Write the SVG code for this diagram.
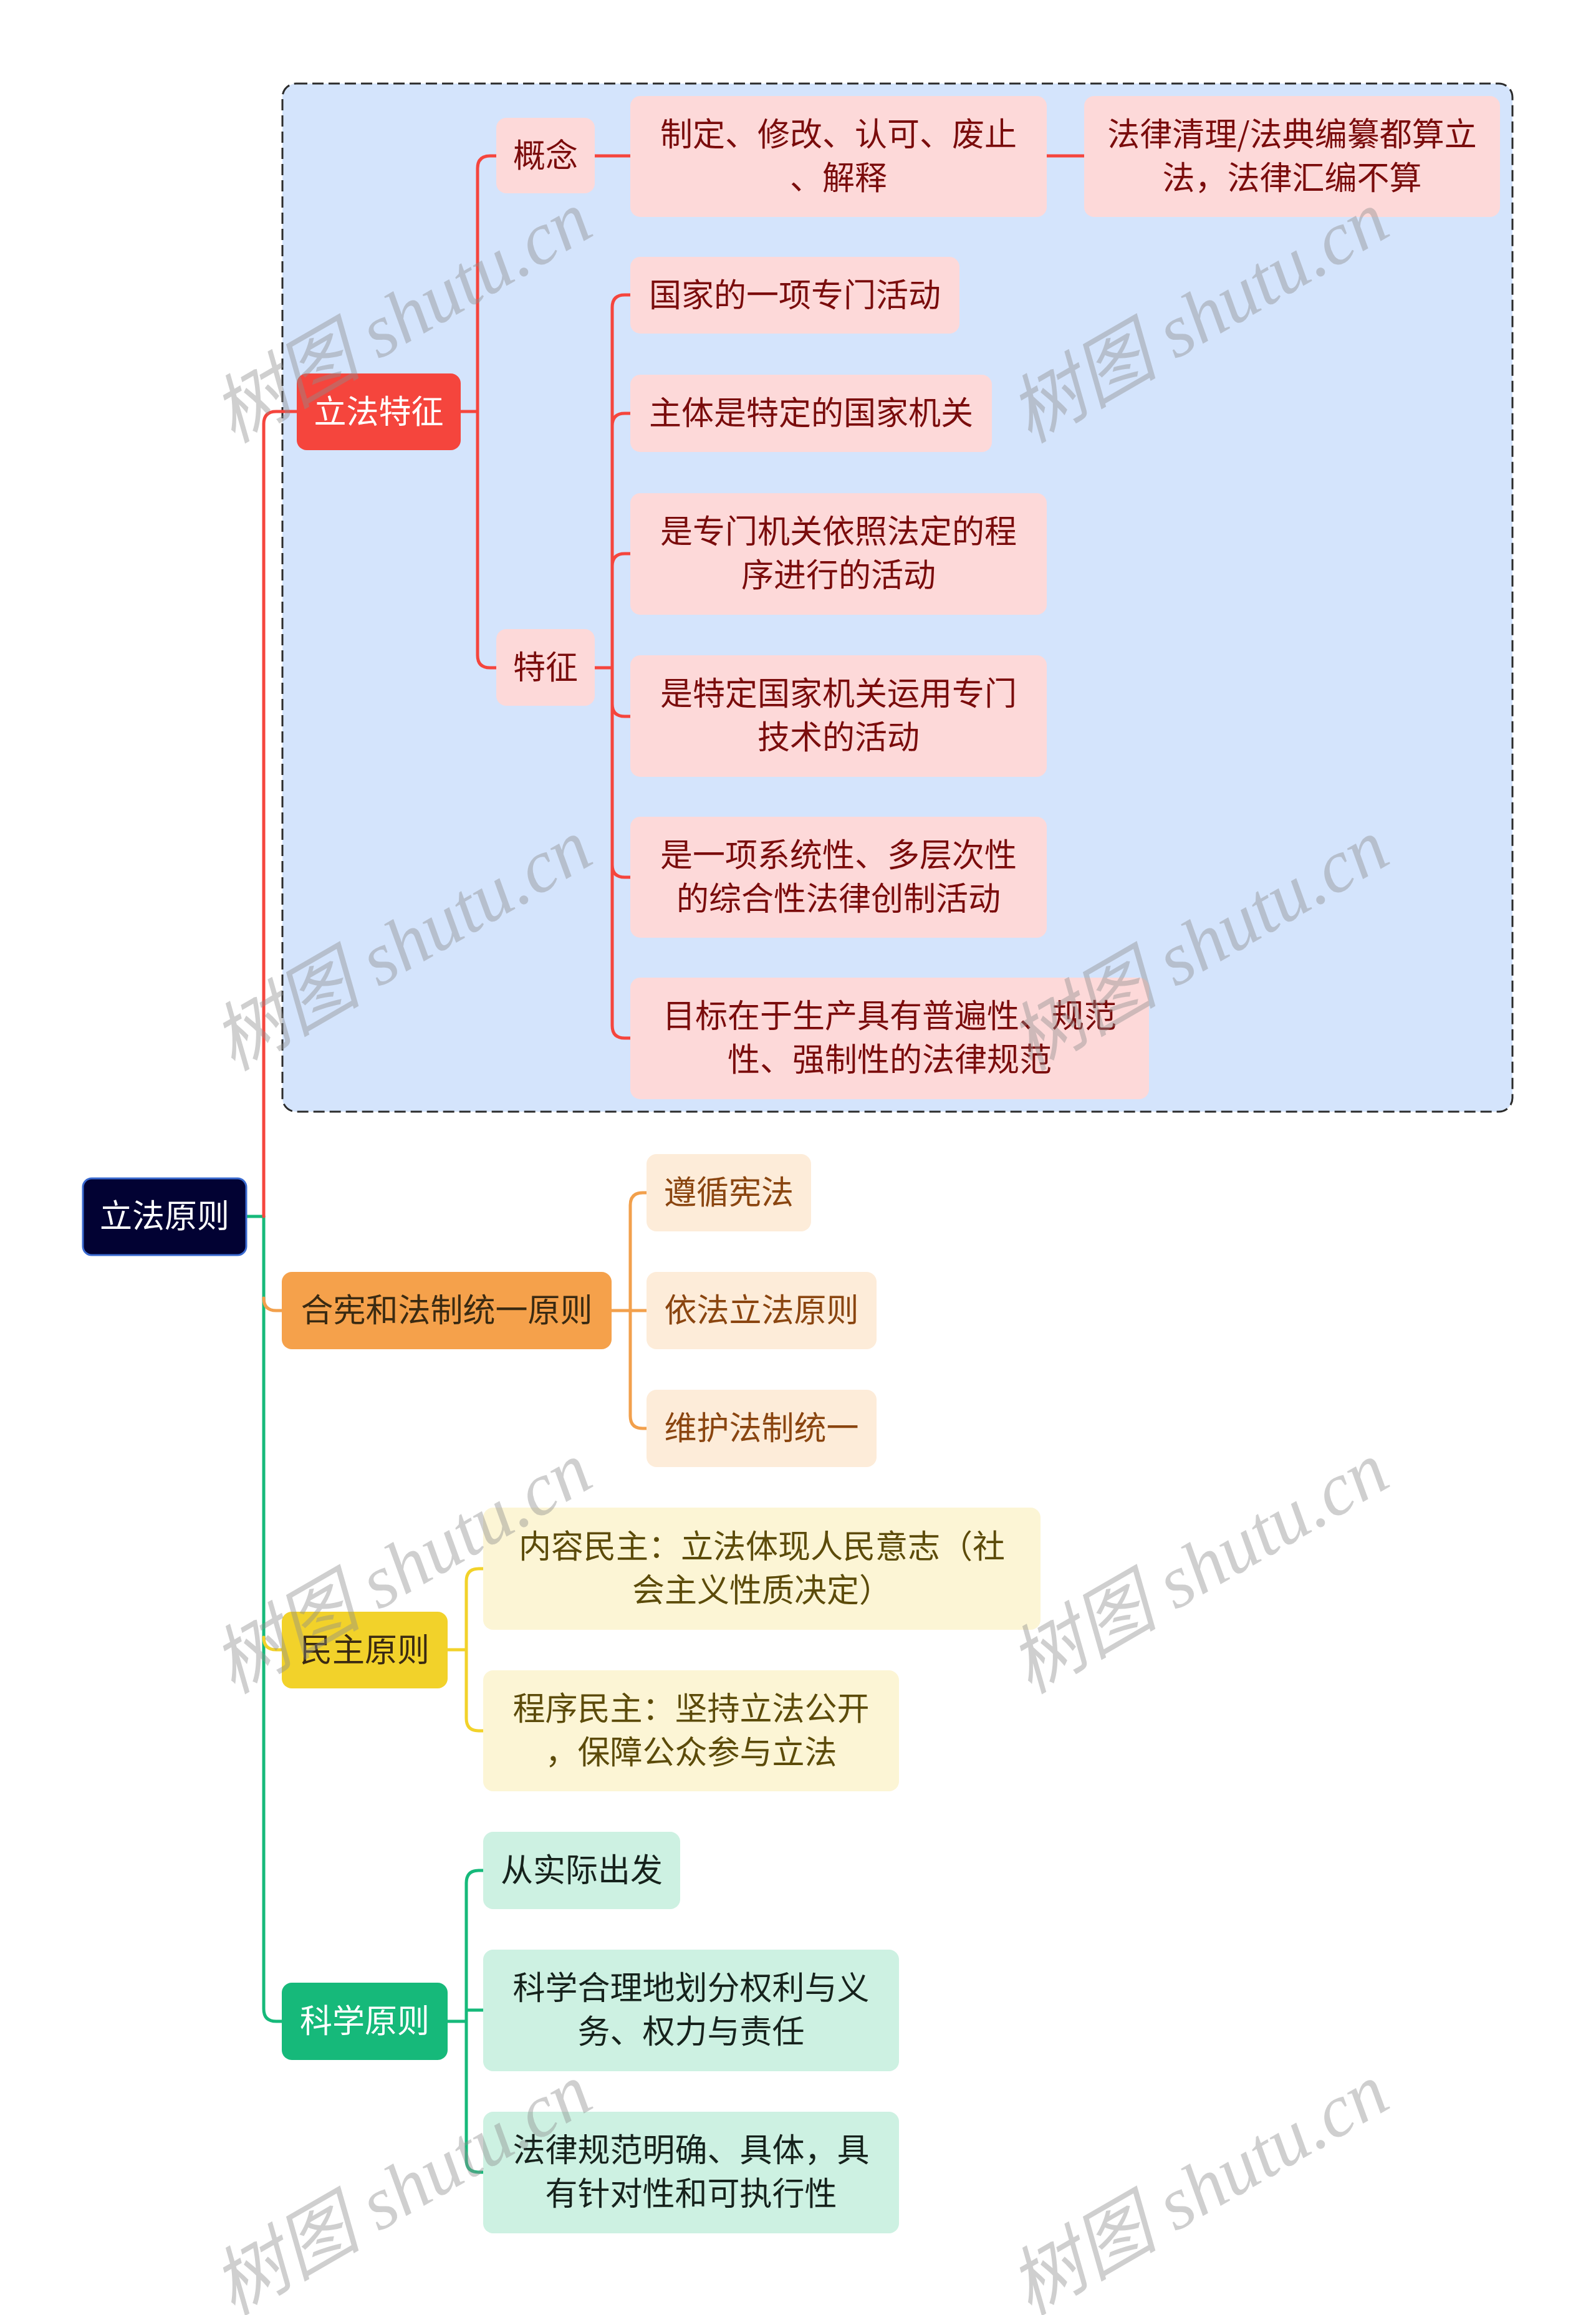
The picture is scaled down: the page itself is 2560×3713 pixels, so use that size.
<svg xmlns="http://www.w3.org/2000/svg" width="2560" height="3713" viewBox="0 0 2560 3713">
<style>
text{font-family:"Noto Sans CJK SC","Noto Sans",sans-serif;font-size:52px;text-anchor:middle}
.ln{fill:none;stroke-width:5;stroke-linecap:round;stroke-linejoin:round}
.r{stroke:#f5453d}.o{stroke:#f2a04c}.y{stroke:#f2d22a}.g{stroke:#16b97a}
.n{stroke:none}
.t-w{fill:#ffffff}
.t-r{fill:#7a0c0c}.t-o{fill:#8a4510}.t-y{fill:#5c4b0a}.t-g{fill:#16221c}.t-d{fill:#3a2a12}
.f-r{fill:#fdd9d9}.f-o{fill:#fdecd9}.f-y{fill:#fcf5d5}.f-g{fill:#cdf1e2}
.wm{font-family:"Liberation Serif","Noto Sans CJK SC",serif;font-size:120px;font-style:italic;fill:#8c8c8c;fill-opacity:0.42}
</style>
<rect width="2560" height="3713" fill="#ffffff"/>
<rect id="boundary" x="453" y="134" width="1973" height="1649" rx="22" fill="#d4e4fc" stroke="#2b2b2b" stroke-width="3" stroke-dasharray="18 8"/>
<g id="connectors">
<path class="ln g" d="M395 1951 H423 V3222 Q423 3242 443 3242 H452"/>
<path class="ln r" d="M423 1951 V680 Q423 660 443 660 H476"/>
<path class="ln o" d="M423 2082 Q423 2102 443 2102 H452"/>
<path class="ln y" d="M423 2626 Q423 2646 443 2646 H452"/>
<path class="ln r" d="M739 660 H766 V270 Q766 250 786 250 H796 M766 660 V1051 Q766 1071 786 1071 H796"/>
<path class="ln r" d="M954 250 H1011 M1679 250 H1739"/>
<path class="ln r" d="M954 1071 H982 M982 1071 V493 Q982 473 1002 473 H1011 M982 1071 V683 Q982 663 1002 663 H1011 M982 1071 V908 Q982 888 1002 888 H1011 M982 1071 V1129 Q982 1149 1002 1149 H1011 M982 1071 V1387 Q982 1407 1002 1407 H1011 M982 1071 V1645 Q982 1665 1002 1665 H1011"/>
<path class="ln o" d="M981 2102 H1037 M1011 2102 V1933 Q1011 1913 1031 1913 H1037 M1011 2102 V2271 Q1011 2291 1031 2291 H1037"/>
<path class="ln y" d="M718 2646 H748 M748 2646 V2536 Q748 2516 768 2516 H775 M748 2646 V2756 Q748 2776 768 2776 H775"/>
<path class="ln g" d="M718 3242 H748 M748 3242 V3020 Q748 3000 768 3000 H775 M748 3242 V3224 H775 M748 3242 V3464 Q748 3484 768 3484 H775"/>
</g>
<g id="root"><rect x="133" y="1890" width="262" height="123" rx="14" fill="#020233" stroke="#3a6ad0" stroke-width="3"/><text class="t-w" x="264" y="1969">立法原则</text></g>
<g id="n-lifatezheng"><rect x="476" y="599" width="263" height="123" rx="16" fill="#f5453d"/><text class="t-w" x="607.5" y="679">立法特征</text></g>
<g id="n-gainian"><rect class="f-r" x="796" y="189" width="158" height="121" rx="16"/><text class="t-r" x="875" y="268">概念</text></g>
<g id="n-zhiding"><rect class="f-r" x="1011" y="154" width="668" height="194" rx="16"/><text class="t-r" x="1345" y="234">制定、修改、认可、废止</text><text class="t-r" x="1345" y="304">、解释</text></g>
<g id="n-qingli"><rect class="f-r" x="1739" y="154" width="667" height="194" rx="16"/><text class="t-r" x="2072.5" y="234">法律清理/法典编纂都算立</text><text class="t-r" x="2072.5" y="304">法，法律汇编不算</text></g>
<g id="n-tezheng"><rect class="f-r" x="796" y="1009" width="158" height="123" rx="16"/><text class="t-r" x="875" y="1089">特征</text></g>
<g id="n-t1"><rect class="f-r" x="1011" y="412" width="528" height="123" rx="16"/><text class="t-r" x="1275" y="492">国家的一项专门活动</text></g>
<g id="n-t2"><rect class="f-r" x="1011" y="601" width="580" height="124" rx="16"/><text class="t-r" x="1301" y="681">主体是特定的国家机关</text></g>
<g id="n-t3"><rect class="f-r" x="1011" y="791" width="668" height="195" rx="16"/><text class="t-r" x="1345" y="871">是专门机关依照法定的程</text><text class="t-r" x="1345" y="941">序进行的活动</text></g>
<g id="n-t4"><rect class="f-r" x="1011" y="1051" width="668" height="195" rx="16"/><text class="t-r" x="1345" y="1131">是特定国家机关运用专门</text><text class="t-r" x="1345" y="1201">技术的活动</text></g>
<g id="n-t5"><rect class="f-r" x="1011" y="1310" width="668" height="194" rx="16"/><text class="t-r" x="1345" y="1390">是一项系统性、多层次性</text><text class="t-r" x="1345" y="1460">的综合性法律创制活动</text></g>
<g id="n-t6"><rect class="f-r" x="1011" y="1568" width="832" height="195" rx="16"/><text class="t-r" x="1427" y="1648">目标在于生产具有普遍性、规范</text><text class="t-r" x="1427" y="1718">性、强制性的法律规范</text></g>
<g id="n-hexian"><rect x="452" y="2040" width="529" height="124" rx="16" fill="#f5a14b"/><text class="t-d" x="716.5" y="2120">合宪和法制统一原则</text></g>
<g id="n-o1"><rect class="f-o" x="1037" y="1851" width="264" height="124" rx="16"/><text class="t-o" x="1169" y="1931">遵循宪法</text></g>
<g id="n-o2"><rect class="f-o" x="1037" y="2040" width="369" height="124" rx="16"/><text class="t-o" x="1221.5" y="2120">依法立法原则</text></g>
<g id="n-o3"><rect class="f-o" x="1037" y="2229" width="369" height="124" rx="16"/><text class="t-o" x="1221.5" y="2309">维护法制统一</text></g>
<g id="n-minzhu"><rect x="452" y="2585" width="266" height="123" rx="16" fill="#f2d22a"/><text class="t-d" x="585" y="2665">民主原则</text></g>
<g id="n-y1"><rect class="f-y" x="775" y="2418" width="894" height="196" rx="16"/><text class="t-y" x="1222" y="2499">内容民主：立法体现人民意志（社</text><text class="t-y" x="1222" y="2569">会主义性质决定）</text></g>
<g id="n-y2"><rect class="f-y" x="775" y="2679" width="667" height="194" rx="16"/><text class="t-y" x="1108.5" y="2759">程序民主：坚持立法公开</text><text class="t-y" x="1108.5" y="2829">，保障公众参与立法</text></g>
<g id="n-kexue"><rect x="452" y="3180" width="266" height="124" rx="16" fill="#16b97a"/><text class="t-w" x="585" y="3260">科学原则</text></g>
<g id="n-g1"><rect class="f-g" x="775" y="2938" width="316" height="124" rx="16"/><text class="t-g" x="933" y="3018">从实际出发</text></g>
<g id="n-g2"><rect class="f-g" x="775" y="3127" width="667" height="195" rx="16"/><text class="t-g" x="1108.5" y="3207">科学合理地划分权利与义</text><text class="t-g" x="1108.5" y="3277">务、权力与责任</text></g>
<g id="n-g3"><rect class="f-g" x="775" y="3387" width="667" height="195" rx="16"/><text class="t-g" x="1108.5" y="3467">法律规范明确、具体，具</text><text class="t-g" x="1108.5" y="3537">有针对性和可执行性</text></g>
<g id="watermarks">
<text class="wm" transform="translate(645 509) rotate(-30)" y="40">树图 shutu.cn</text>
<text class="wm" transform="translate(1923 509) rotate(-30)" y="40">树图 shutu.cn</text>
<text class="wm" transform="translate(645 1516) rotate(-30)" y="40">树图 shutu.cn</text>
<text class="wm" transform="translate(1923 1516) rotate(-30)" y="40">树图 shutu.cn</text>
<text class="wm" transform="translate(645 2515) rotate(-30)" y="40">树图 shutu.cn</text>
<text class="wm" transform="translate(1923 2515) rotate(-30)" y="40">树图 shutu.cn</text>
<text class="wm" transform="translate(645 3512) rotate(-30)" y="40">树图 shutu.cn</text>
<text class="wm" transform="translate(1923 3512) rotate(-30)" y="40">树图 shutu.cn</text>
</g>
</svg>
